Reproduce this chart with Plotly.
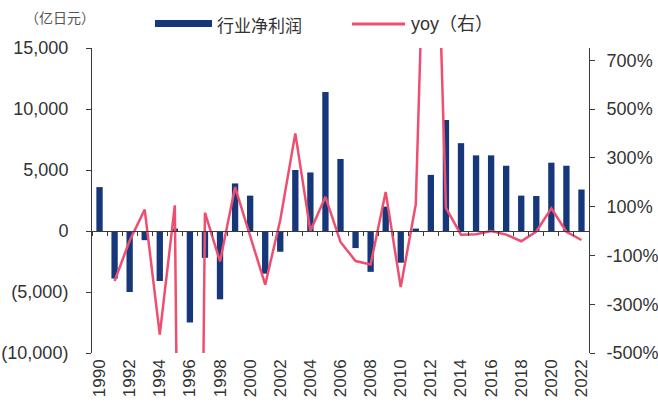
import plotly.graph_objects as go

# Fiscal years on the category axis
years = ["1990", "1991", "1992", "1993", "1994", "1995", "1996", "1997", "1998",
         "1999", "2000", "2001", "2002", "2003", "2004", "2005", "2006", "2007",
         "2008", "2009", "2010", "2011", "2012", "2013", "2014", "2015", "2016",
         "2017", "2018", "2019", "2020", "2021", "2022"]

# Industry net profit (100 million yen)
net_profit = [3600, -3900, -5000, -750, -4100, 200, -7500, -2200, -5600,
              3900, 2900, -3500, -1700, 5000, 4800, 11400, 5900, -1400,
              -3350, 2000, -2600, 200, 4600, 9100, 7200, 6200, 6200,
              5350, 2900, 2870, 5600, 5350, 3400]

# Year-on-year change (%), right axis
yoy = [None, -205, -40, 88, -425, 105, -6000, 75, -125,
       180, -22, -220, 45, 400, 0, 140, -45, -123,
       -137, 160, -230, 110, 2200, 95, -15, -13, 0,
       -15, -42, -2, 93, -3, -37]

left_ticks = [-10000, -5000, 0, 5000, 10000, 15000]
left_tick_text = ["(10,000)", "(5,000)", "0", "5,000", "10,000", "15,000"]
right_ticks = [-500, -300, -100, 100, 300, 500, 700]
right_tick_text = ["-500%", "-300%", "-100%", "100%", "300%", "500%", "700%"]

BAR_COLOR = "#16387A"
LINE_COLOR = "#EE4F70"
AXIS_COLOR = "#3a3a3a"
TEXT_COLOR = "#333333"
NUM_FONT = "Liberation Sans, Arial, sans-serif"
CJK_FONT = "Noto Sans CJK SC, sans-serif"

W, H = 658, 405
L, R, T, B = 92, 69, 48, 52
PW, PH = W - L - R, H - T - B


def px_x(x):
    return (x - L) / PW


def px_y(y):
    return (H - B - y) / PH


x_range = [-0.5, len(years) - 0.5]

fig = go.Figure()

fig.add_trace(go.Bar(
    x=years, y=net_profit, name="行业净利润",
    marker=dict(color=BAR_COLOR, line=dict(width=0)),
    xaxis="x", yaxis="y",
))

fig.add_trace(go.Scatter(
    x=years, y=yoy, name="yoy（右）", mode="lines",
    line=dict(color=LINE_COLOR, width=2.5),
    connectgaps=False,
    xaxis="x2", yaxis="y2",
))

fig.update_layout(
    width=W, height=H,
    margin=dict(l=L, r=R, t=T, b=B, autoexpand=False),
    paper_bgcolor="white", plot_bgcolor="white",
    showlegend=False,
    bargap=0.58,
    font=dict(family=NUM_FONT, size=18, color=TEXT_COLOR),
    xaxis=dict(
        type="category", categoryorder="array", categoryarray=years,
        range=x_range, automargin=False,
        tickmode="array", tickvals=years[::2], ticktext=years[::2],
        tickangle=-90, showline=False, ticks="", showgrid=False,
        zeroline=False, tickfont=dict(size=17, color=TEXT_COLOR),
        ticklabelstandoff=2,
    ),
    # category axis drawn along the zero line, with boundary ticks
    xaxis2=dict(
        type="category", categoryorder="array", categoryarray=years,
        range=x_range, automargin=False,
        overlaying="x", anchor="free", position=0.4, side="bottom",
        showline=True, linecolor=AXIS_COLOR, linewidth=1,
        ticks="outside", tickson="boundaries", ticklen=4,
        tickcolor=AXIS_COLOR, showticklabels=False, showgrid=False,
        zeroline=False, layer="above traces",
    ),
    yaxis=dict(
        range=[-10000, 15000], automargin=False, tickmode="array",
        tickvals=left_ticks, ticktext=left_tick_text,
        showline=True, linecolor=AXIS_COLOR, linewidth=1,
        ticks="outside", ticklen=5, tickcolor=AXIS_COLOR,
        showgrid=False, zeroline=True, zerolinecolor=AXIS_COLOR,
        zerolinewidth=1,
        tickfont=dict(size=18, color=TEXT_COLOR),
        ticklabelstandoff=14,
    ),
    yaxis2=dict(
        range=[-500, 750], automargin=False,
        overlaying="y", side="right", anchor="x",
        tickmode="array", tickvals=right_ticks, ticktext=right_tick_text,
        showline=True, linecolor=AXIS_COLOR, linewidth=1,
        ticks="outside", ticklen=5, tickcolor=AXIS_COLOR,
        showgrid=False, zeroline=False,
        tickfont=dict(size=18, color=TEXT_COLOR),
        ticklabelstandoff=8,
    ),
)

# Legend drawn as swatches plus labels across the top
fig.add_shape(type="rect", xref="paper", yref="paper",
              x0=px_x(155), x1=px_x(212), y0=px_y(27), y1=px_y(20),
              fillcolor=BAR_COLOR, line=dict(width=0))
fig.add_shape(type="line", xref="paper", yref="paper",
              x0=px_x(352), x1=px_x(405), y0=px_y(24), y1=px_y(24),
              line=dict(color=LINE_COLOR, width=3))

fig.add_annotation(text="行业净利润", xref="paper", yref="paper",
                   x=px_x(215), y=px_y(24), xanchor="left", yanchor="middle",
                   showarrow=False,
                   font=dict(family=CJK_FONT, size=17, color=TEXT_COLOR))
fig.add_annotation(text="yoy（右）", xref="paper", yref="paper",
                   x=px_x(409), y=px_y(24), xanchor="left", yanchor="middle",
                   showarrow=False,
                   font=dict(family=NUM_FONT + ", " + CJK_FONT, size=18,
                             color=TEXT_COLOR))
fig.add_annotation(text="（亿日元）", xref="paper", yref="paper",
                   x=px_x(60), y=px_y(17), xanchor="center", yanchor="middle",
                   showarrow=False,
                   font=dict(family=CJK_FONT, size=14, color="#555555"))

fig.write_html("out.html")
